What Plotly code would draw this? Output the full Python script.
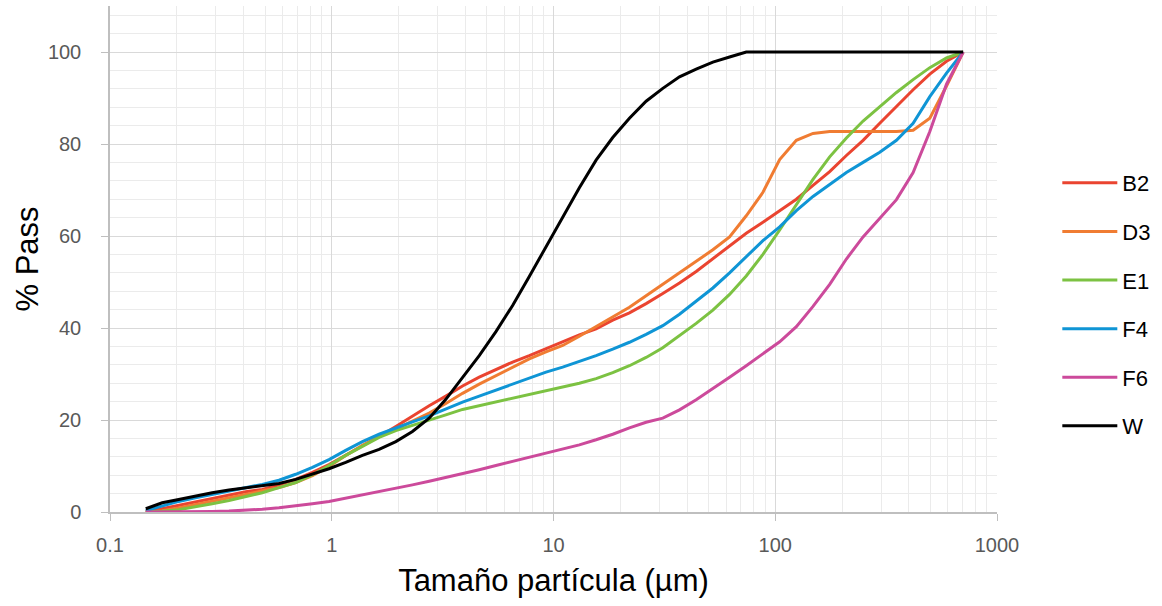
import plotly.graph_objects as go

# Particle sizes (µm)
sizes = [0.145, 0.172, 0.204, 0.243, 0.289, 0.344, 0.409, 0.486, 0.578, 0.688,
         0.818, 0.972, 1.156, 1.375, 1.635, 1.945, 2.312, 2.750, 3.270, 3.889,
         4.625, 5.500, 6.541, 7.778, 9.250, 11.00, 13.08, 15.56, 18.50, 22.00,
         26.16, 31.11, 37.00, 44.00, 52.33, 62.23, 74.00, 88.00, 104.7, 124.5,
         148.0, 176.0, 209.3, 248.9, 296.0, 352.0, 418.6, 497.8, 592.0, 704.0]

B2 = [0.0, 0.7, 1.4, 2.2, 2.9, 3.7, 4.4, 4.9, 5.9, 7.1,
      8.6, 10.3, 12.3, 14.3, 16.4, 18.6, 20.9, 23.1, 25.2, 27.4,
      29.3, 31.0, 32.6, 34.0, 35.5, 37.0, 38.5, 39.8, 41.7, 43.3,
      45.3, 47.5, 49.8, 52.3, 55.0, 57.8, 60.6, 63.0, 65.5, 68.0,
      71.0, 74.0, 77.5, 80.8, 84.5, 88.2, 91.8, 95.2, 98.0, 100.0]

D3 = [0.0, 0.3, 0.9, 1.6, 2.4, 3.1, 3.8, 4.6, 5.3, 6.4,
      7.9, 9.9, 12.3, 14.5, 16.4, 18.0, 19.7, 21.5, 23.6, 25.8,
      27.8, 29.6, 31.5, 33.3, 34.8, 36.2, 38.2, 40.3, 42.3, 44.5,
      47.0, 49.5, 52.0, 54.5, 57.0, 59.8, 64.4, 69.5, 76.6, 80.8,
      82.3, 82.7, 82.7, 82.7, 82.7, 82.7, 83.0, 85.6, 92.6, 100.0]

E1 = [0.0, 0.15, 0.5, 1.1, 1.8, 2.5, 3.3, 4.2, 5.3, 6.4,
      8.1, 10.1, 12.3, 14.3, 16.2, 17.7, 18.8, 20.0, 21.1, 22.3,
      23.1, 24.0, 24.8, 25.6, 26.3, 27.2, 28.0, 29.0, 30.3, 31.8,
      33.6, 35.7, 38.3, 41.0, 43.9, 47.3, 51.3, 56.0, 61.3, 66.8,
      72.3, 77.2, 81.3, 85.0, 88.2, 91.2, 94.0, 96.6, 98.7, 100.0]

F4 = [0.3, 1.3, 2.3, 3.1, 3.8, 4.5, 5.2, 6.0, 6.9, 8.2,
      9.7, 11.4, 13.4, 15.3, 16.9, 18.3, 19.6, 20.9, 22.4, 23.9,
      25.2, 26.5, 27.8, 29.0, 30.4, 31.5, 32.7, 34.0, 35.4, 36.9,
      38.6, 40.5, 43.0, 45.8, 48.7, 52.0, 55.5, 59.0, 62.0, 65.5,
      68.6, 71.3, 73.8, 76.0, 78.2, 80.8, 84.5, 90.3, 95.4, 100.0]

F6 = [0.0, 0.0, 0.0, 0.05, 0.1, 0.2, 0.35, 0.6, 0.9, 1.3,
      1.8, 2.3, 3.0, 3.7, 4.4, 5.1, 5.9, 6.7, 7.5, 8.4,
      9.2, 10.1, 11.0, 11.9, 12.8, 13.8, 14.6, 15.7, 16.9, 18.3,
      19.5, 20.4, 22.2, 24.4, 26.8, 29.3, 31.8, 34.3, 37.0, 40.3,
      44.7, 49.5, 55.0, 59.8, 63.8, 67.9, 73.8, 82.7, 93.0, 100.0]

W = [0.7, 2.0, 2.7, 3.5, 4.2, 4.8, 5.3, 5.7, 6.2, 7.1,
     8.3, 9.4, 10.8, 12.3, 13.6, 15.3, 17.5, 20.4, 24.5, 29.3,
     34.0, 39.2, 44.9, 51.2, 57.6, 64.0, 70.5, 76.5, 81.4, 85.6,
     89.3, 92.1, 94.6, 96.3, 97.8, 98.9, 100.0, 100.0, 100.0, 100.0,
     100.0, 100.0, 100.0, 100.0, 100.0, 100.0, 100.0, 100.0, 100.0, 100.0]

series = [("B2", B2, "#EA4430"), ("D3", D3, "#F07C32"), ("E1", E1, "#7CC242"),
          ("F4", F4, "#0F95D5"), ("F6", F6, "#CC4A9B"), ("W", W, "#000000")]

x_ticks = [0.1, 1, 10, 100, 1000]
x_ticktext = ["0.1", "1", "10", "100", "1000"]
x_minor = [m * d for d in [0.1, 1, 10, 100] for m in range(2, 10)]

fig = go.Figure()
for i, (name, vals, col) in enumerate(series):
    fig.add_trace(go.Scatter(x=sizes, y=vals, name=name, mode="lines",
                             line=dict(color=col, width=3), legendgroup=name))

fig.update_layout(
    width=1162, height=606,
    margin=dict(l=110, r=165, t=6, b=94),
    paper_bgcolor="white", plot_bgcolor="white",
    font=dict(family="Liberation Sans, Arial, sans-serif", color="#595959"),
    showlegend=True,
    legend=dict(x=1.068, xanchor="left", y=0.41, yanchor="middle",
                font=dict(size=22, color="#000000"), tracegroupgap=17,
                traceorder="grouped", itemwidth=55),
    xaxis=dict(type="log", range=[-1, 3], tickmode="array", tickvals=x_ticks,
               ticktext=x_ticktext, showgrid=True, gridcolor="#D9D9D9", gridwidth=1,
               showline=True, linecolor="#BFBFBF", linewidth=1.5,
               ticks="outside", ticklen=7, tickcolor="#BFBFBF",
               tickfont=dict(size=20, color="#595959"), ticklabelstandoff=7,
               minor=dict(tickmode="array", tickvals=x_minor, showgrid=True,
                          gridcolor="#EBEBEB", gridwidth=1, ticks=""),
               title=dict(text="Tamaño partícula (µm)", font=dict(size=31, color="#000000"),
                          standoff=15),
               zeroline=False),
    yaxis=dict(range=[0, 110], dtick=20, tick0=0, showgrid=True, gridcolor="#D9D9D9",
               gridwidth=1, showline=True, linecolor="#BFBFBF", linewidth=1.5,
               ticks="outside", ticklen=7, tickcolor="#BFBFBF",
               tickfont=dict(size=20, color="#595959"), ticklabelstandoff=16,
               minor=dict(dtick=4, tick0=0, showgrid=True, gridcolor="#EBEBEB", gridwidth=1, ticks=""),
               title=dict(text="% Pass", font=dict(size=31, color="#000000"), standoff=0),
               zeroline=False),
)

fig.write_html("out.html")
